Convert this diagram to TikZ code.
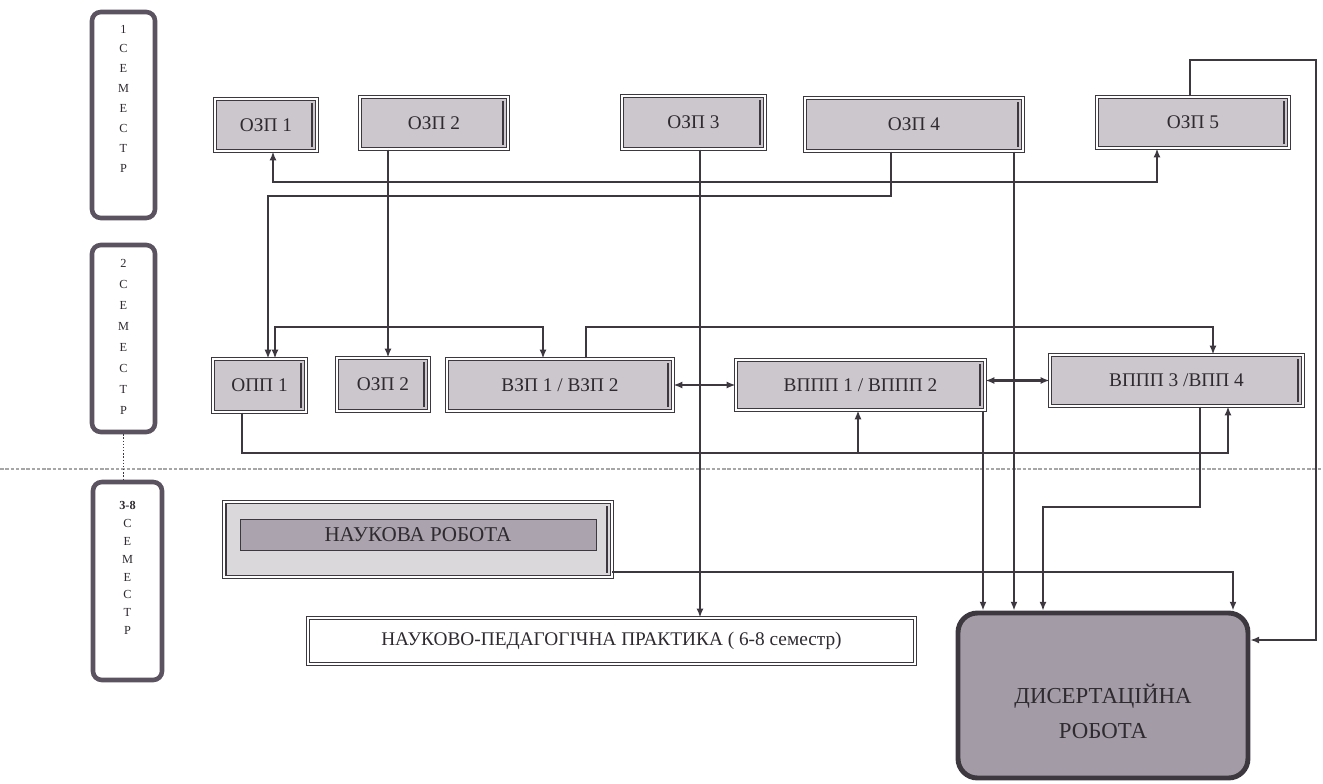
\documentclass[tikz,border=0pt]{standalone}
\usepackage{fontspec}
\setmainfont{Liberation Serif}
\usetikzlibrary{positioning, arrows.meta}

\definecolor{boxline}{HTML}{3D3840}
\definecolor{boxfill}{HTML}{CBC7CD}
\definecolor{semline}{HTML}{5C5360}
\definecolor{disfill}{HTML}{A39BA6}
\definecolor{bandfill}{HTML}{ABA3AD}
\definecolor{inkgray}{HTML}{2E2A30}

\begin{document}
\begin{tikzpicture}[x=0.02cm, y=-0.02cm, >={Latex[length=5pt,width=4pt]}]

    \useasboundingbox (0,0) rectangle (1323,784);

    \tikzset{
      zbox/.style={draw=boxline, double=white, double distance=1.6pt, line width=0.6pt,
        fill=boxfill, inner sep=0pt, text=inkgray, font=\fontsize{11}{13}\selectfont,
        path picture={\draw[boxline, line width=1.6pt]
          ([xshift=-2.8pt,yshift=-2.5pt]path picture bounding box.north east) --
          ([xshift=-2.8pt,yshift=2.5pt]path picture bounding box.south east);}},
      sembox/.style={draw=semline, line width=2.6pt, rounded corners=5pt, fill=white, minimum width=1.26cm},
      semtext/.style={inner sep=0pt, align=center, text=inkgray, font=\fontsize{7}{11.3}\selectfont},
      link/.style={->, draw=boxline, line width=0.8pt},
      heavy/.style={->, draw=boxline, line width=1.5pt},
      dbl/.style={<->, draw=boxline, line width=1.6pt}
    }

    % Dashed border under the 2nd semester
    \draw[gray!70, line width=0.6pt, dash pattern=on 2pt off 1pt] (0,469) -- (1323,469);

    % Semester columns
    \node[sembox, minimum height=4.12cm] (sem1) at (123.5,115) {};
    \node[sembox, minimum height=3.74cm] (sem2) at (123.5,338.5) {};
    \node[sembox, minimum width=1.38cm, minimum height=3.96cm] (sem3) at (127.5,581) {};
    \node[semtext, below=8.5pt of sem1.north] (sem1t) {1\\С\\Е\\М\\Е\\С\\Т\\Р};
    \node[semtext, below=9.5pt of sem2.north, font=\fontsize{7}{11.9}\selectfont] (sem2t) {2\\С\\Е\\М\\Е\\С\\Т\\Р};
    \node[semtext, below=12pt of sem3.north, font=\fontsize{7}{10.2}\selectfont] (sem3t) {\textbf{3-8}\\С\\Е\\М\\Е\\С\\Т\\Р};
    \draw[boxline, densely dotted, line width=0.8pt] (sem2.south) -- (sem2.south |- sem3.north);

    % 1st semester
    \node[zbox, minimum width=2.04cm, minimum height=1.04cm] (ozp1) at (266,125) {ОЗП 1};
    \node[zbox, minimum width=2.96cm, minimum height=1.04cm] (ozp2) at (434,123) {ОЗП 2};
    \node[zbox, minimum width=2.86cm, minimum height=1.06cm] (ozp3) at (693.5,122.5) {ОЗП 3};
    \node[zbox, minimum width=4.36cm, minimum height=1.06cm] (ozp4) at (914,124.5) {ОЗП 4};
    \node[zbox, minimum width=3.84cm, minimum height=1.02cm] (ozp5) at (1193,122.5) {ОЗП 5};

    % 2nd semester
    \node[zbox, minimum width=1.86cm, minimum height=1.06cm] (opp1) at (259.5,385.5) {ОПП 1};
    \node[zbox, minimum width=1.84cm, minimum height=1.06cm] (ozp2b) at (383,384.5) {ОЗП 2};
    \node[zbox, minimum width=4.52cm, minimum height=1.04cm] (vzp) at (560,385) {ВЗП 1 / ВЗП 2};
    \node[zbox, minimum width=4.98cm, minimum height=1.0cm] (vppp12) at (860.5,385) {ВППП 1 / ВППП 2};
    \node[zbox, minimum width=5.06cm, minimum height=1.02cm] (vppp34) at (1176.5,380.5) {ВППП 3 /ВПП 4};

    % 3-8 semesters
    \node[zbox, fill=boxfill!70, minimum width=7.76cm, minimum height=1.5cm] (nauk) at (418,539.5) {};
    \node[draw=boxline, line width=0.4pt, fill=bandfill, inner sep=0pt, minimum width=7.12cm,
      minimum height=0.62cm, text=inkgray, font=\fontsize{12}{14}\selectfont] (naukb) at (418,534.5) {НАУКОВА РОБОТА};
    \node[draw=boxline, double=white, double distance=1.4pt, line width=0.6pt, fill=white, inner sep=0pt,
      minimum width=12.14cm, minimum height=0.92cm, text=inkgray, font=\fontsize{11}{13}\selectfont]
      (prak) at (611.5,641) {НАУКОВО-ПЕДАГОГІЧНА ПРАКТИКА ( 6-8 семестр)};
    \node[draw=boxline, line width=2.8pt, rounded corners=11pt, fill=disfill,
      minimum width=5.8cm, minimum height=3.3cm] (dis) at (1103,695.5) {};
    \node[inner sep=0pt, align=center, text=inkgray, font=\fontsize{13}{20}\selectfont]
      (dist) at ([yshift=-9pt]dis.center) {ДИСЕРТАЦІЙНА\\РОБОТА};

    % Links from the 1st semester
    \draw[link, <->, line width=1pt] (273,0 |- ozp1.south) -- (273,182) -- (1157,182) -- (1157,0 |- ozp5.south);
    \draw[link] (891,0 |- ozp4.south) -- (891,196) -- (268,196) -- (268,0 |- opp1.north);
    \draw[heavy] (388,0 |- ozp2.south) -- (388,0 |- ozp2b.north);
    \draw[heavy] (700,0 |- ozp3.south) -- (700,0 |- prak.north);
    \draw[heavy] (1014,0 |- ozp4.south) -- (1014,0 |- dis.north);
    \draw[link] (1190,0 |- ozp5.north) -- (1190,60) -- (1316,60) -- (1316,640) -- (dis.east |- 0,640);

    % Links inside the 2nd semester
    \draw[link, <->, line width=1pt] (275,0 |- opp1.north) -- (275,327) -- (543,327) -- (543,0 |- vzp.north);
    \draw[link, line width=1pt] (586,0 |- vzp.north) -- (586,327) -- (1213,327) -- (1213,0 |- vppp34.north);
    \draw[link, line width=1pt] (242,0 |- opp1.south) -- (242,453) -- (1228,453) -- (1228,0 |- vppp34.south);
    \coordinate (jn) at (858,453);
    \draw[link] (jn) -- (jn |- vppp12.south);
    \draw[dbl] (vzp.east) -- (vzp.east -| vppp12.west);
    \draw[dbl] (vppp12.east |- vppp34.west) -- (vppp34.west);

    % Links to the thesis
    \draw[link, line width=1pt] (983,0 |- vppp12.south) -- (983,0 |- dis.north);
    \draw[link] (1200,0 |- vppp34.south) -- (1200,507) -- (1043,507) -- (1043,0 |- dis.north);
    \draw[link, line width=1pt] (nauk.east |- 0,572) -- (1233,572) -- (1233,0 |- dis.north);

\end{tikzpicture}
\end{document}
